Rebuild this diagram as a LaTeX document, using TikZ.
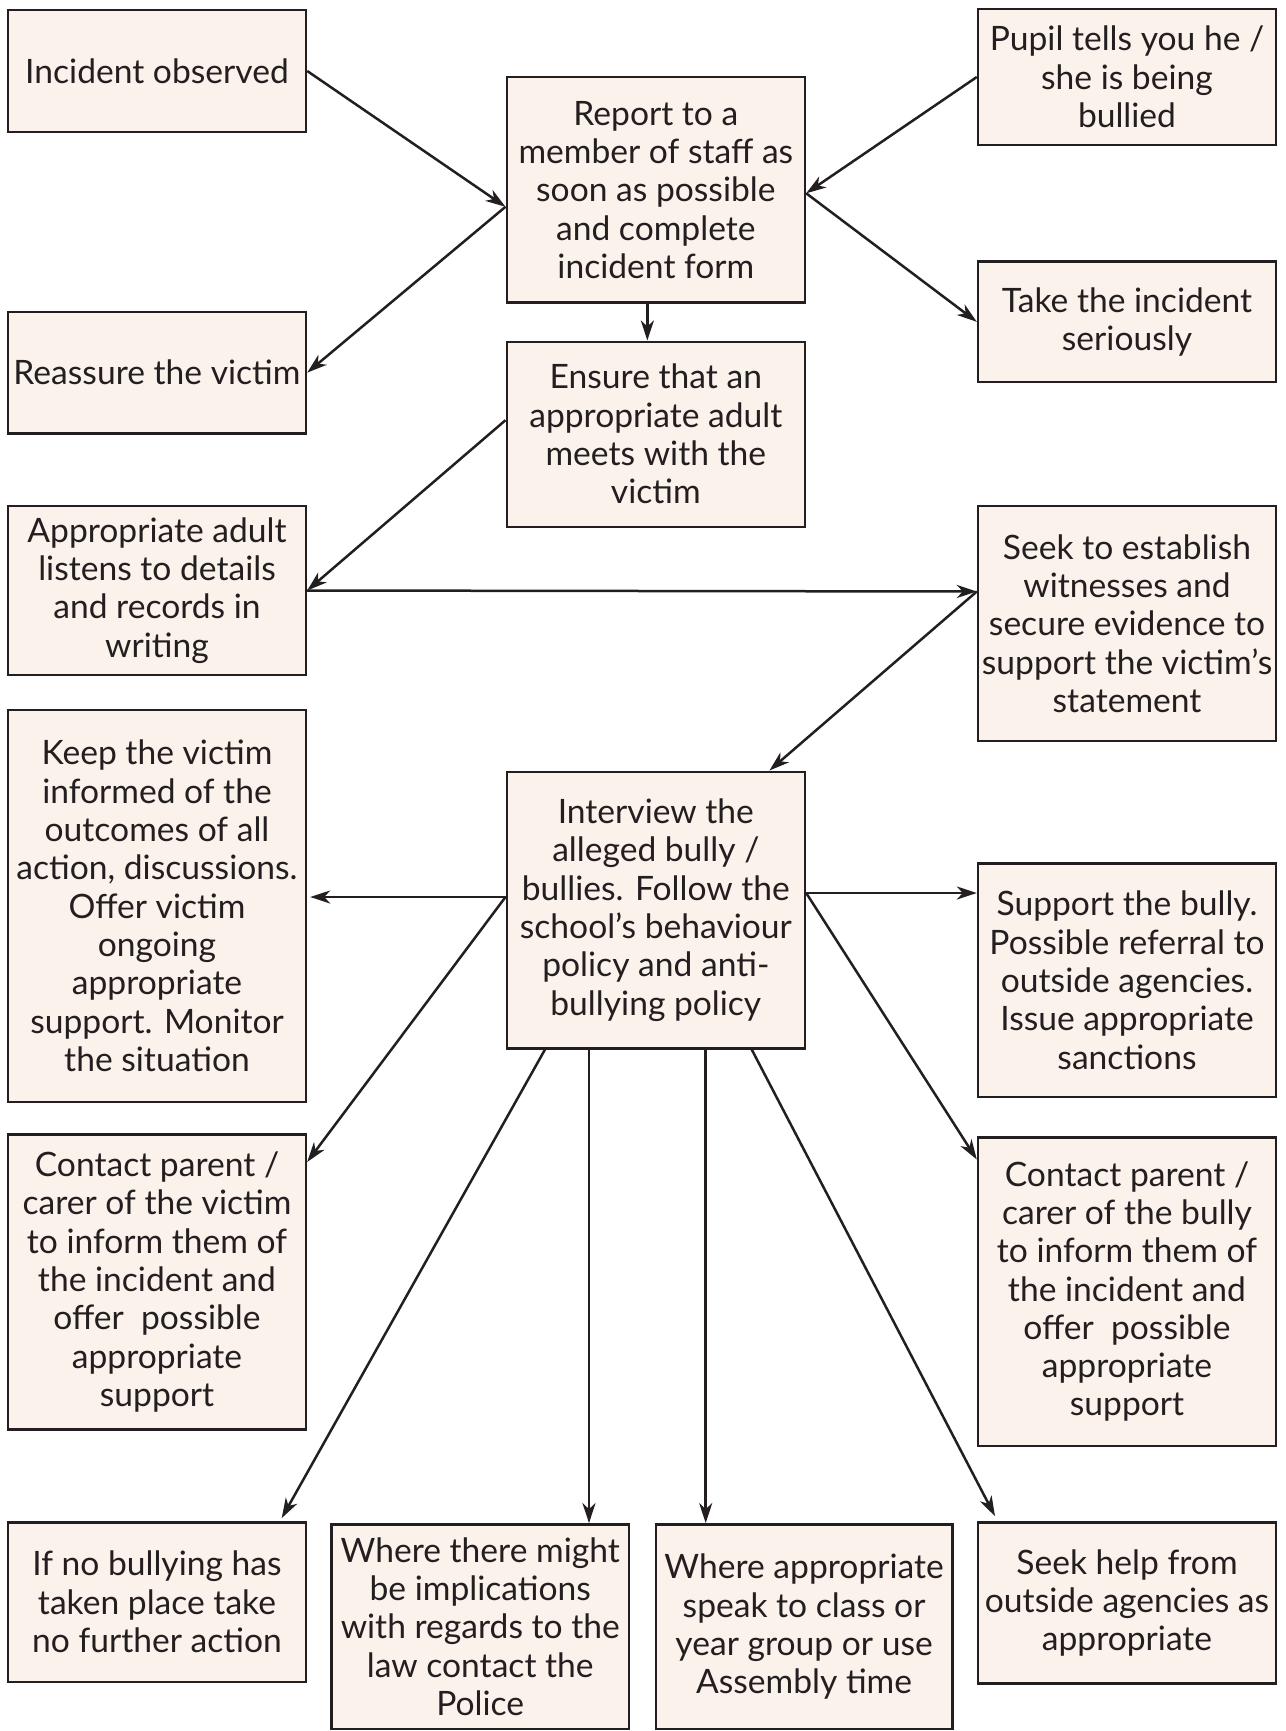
\documentclass[tikz,border=0pt]{standalone}
\usepackage{fontspec}
\setmainfont{Lato}
\usetikzlibrary{arrows.meta,calc}
\definecolor{boxfill}{RGB}{252,242,236}
\definecolor{ink}{RGB}{35,31,32}
\newcommand{\boxfont}{\fontsize{33.6}{38.3}\selectfont}
\tikzset{
  box/.style={draw=ink, line width=2.4pt, fill=boxfill, inner sep=0pt, align=center, text=ink, font=\boxfont},
  arr/.style={draw=ink, line width=2.5pt, -{Stealth[length=20pt,width=13pt,inset=6pt]}},
}
\begin{document}
\begin{tikzpicture}[x=1pt,y=-1pt]
\useasboundingbox (0,0) rectangle (1285,1731);
% boxes
\node[box, minimum width=298, minimum height=122] (inc) at (157,71) {Incident observed};
\node[box, minimum width=298.3, minimum height=225] (rep) at (655.85,189.8) {Report to a\\member of staff as\\soon as possible\\and complete\\incident form};
\node[box, minimum width=298, minimum height=136] (pup) at (1127,77) {Pupil tells you he /\\she is being\\bullied};
\node[box, minimum width=298, minimum height=121.3] (reas) at (157,372.65) {Reassure the victim};
\node[box, minimum width=298.3, minimum height=185] (ens) at (655.85,434.2) {Ensure that an\\appropriate adult\\meets with the\\victim};
\node[box, minimum width=298, minimum height=120.4] (take) at (1127,321.8) {Take the incident\\seriously};
\node[box, minimum width=298, minimum height=169] (adult) at (157,590.5) {Appropriate adult\\listens to details\\and records in\\writing};
\node[box, minimum width=298, minimum height=235] (seek) at (1127,623.5) {Seek to establish\\witnesses and\\secure evidence to\\support the victim’s\\statement};
\node[box, minimum width=298, minimum height=391.7] (keep) at (157,905.85) {Keep the victim\\informed of the\\outcomes of all\\action, discussions.\\Offer victim\\ongoing\\appropriate\\support. Monitor\\the situation};
\node[box, minimum width=298.3, minimum height=276.6] (iv) at (655.85,910) {Interview the\\alleged bully /\\bullies. Follow the\\school’s behaviour\\policy and anti-\\bullying policy};
\node[box, minimum width=298, minimum height=233.7] (supp) at (1127,980.15) {Support the bully.\\Possible referral to\\outside agencies.\\Issue appropriate\\sanctions};
\node[box, minimum width=298, minimum height=295] (cvic) at (157,1282) {Contact parent /\\carer of the victim\\to inform them of\\the incident and\\offer~ possible\\appropriate\\support};
\node[box, minimum width=298, minimum height=308.4] (cbul) at (1127,1291.5) {Contact parent /\\carer of the bully\\to inform them of\\the incident and\\offer~ possible\\appropriate\\support};
\node[box, minimum width=298, minimum height=159.4] (nob) at (157,1602) {If no bullying has\\taken place take\\no further action};
\node[box, minimum width=297.5, minimum height=204.7] (pol) at (480.25,1626.65) {Where there might\\be implications\\with regards to the\\law contact the\\Police};
\node[box, minimum width=296.8, minimum height=204.7] (asm) at (804.1,1626.65) {Where appropriate\\speak to class or\\year group or use\\Assembly time};
\node[box, minimum width=298, minimum height=161.3] (help) at (1127,1603) {Seek help from\\outside agencies as\\appropriate};
% connection points
\coordinate (repl) at ([yshift=-17pt]rep.west);
\coordinate (repr) at ([yshift=-3.5pt]rep.east);
\coordinate (ensl) at ([yshift=14pt]ens.west);
\coordinate (seekl) at ([yshift=32pt]seek.west);
\coordinate (ivl) at ([yshift=13pt]iv.west);
\coordinate (ivr) at ([yshift=17pt]iv.east);
\coordinate (ivb1) at ([xshift=-110.85pt]iv.south);
\coordinate (ivb2) at ([xshift=-66.85pt]iv.south);
\coordinate (ivb3) at ([xshift=49.85pt]iv.south);
\coordinate (ivb4) at ([xshift=95.85pt]iv.south);
% arrows
\draw[arr] (inc.east) -- (repl);
\draw[arr] (pup.west) -- (repr);
\draw[arr] (repl) -- (reas.east);
\draw[arr] (repr) -- (take.west);
\draw[arr] ([xshift=-8.5pt]rep.south) -- ([xshift=-8.5pt]ens.north);
\draw[arr] (ensl) -- (adult.east);
\draw[arr] (adult.east) -- (seekl);
\draw[arr] (seekl) -- ([xshift=113.6pt]iv.north);
\draw[arr, shorten >=3pt] (ivl) -- (ivl -| keep.east);
\draw[arr] (ivr) -- (ivr -| supp.west);
\draw[arr] (ivl) -- ([yshift=120pt]cvic.east);
\draw[arr] (ivr) -- ([yshift=132pt]cbul.west);
\draw[arr] (ivb1) -- ([xshift=124.7pt,yshift=3pt]nob.north);
\draw[arr] (ivb2) -- (ivb2 |- pol.north);
\draw[arr] (ivb3) -- (ivb3 |- asm.north);
\draw[arr] (ivb4) -- ([xshift=-132pt,yshift=5pt]help.north);
\end{tikzpicture}
\end{document}
